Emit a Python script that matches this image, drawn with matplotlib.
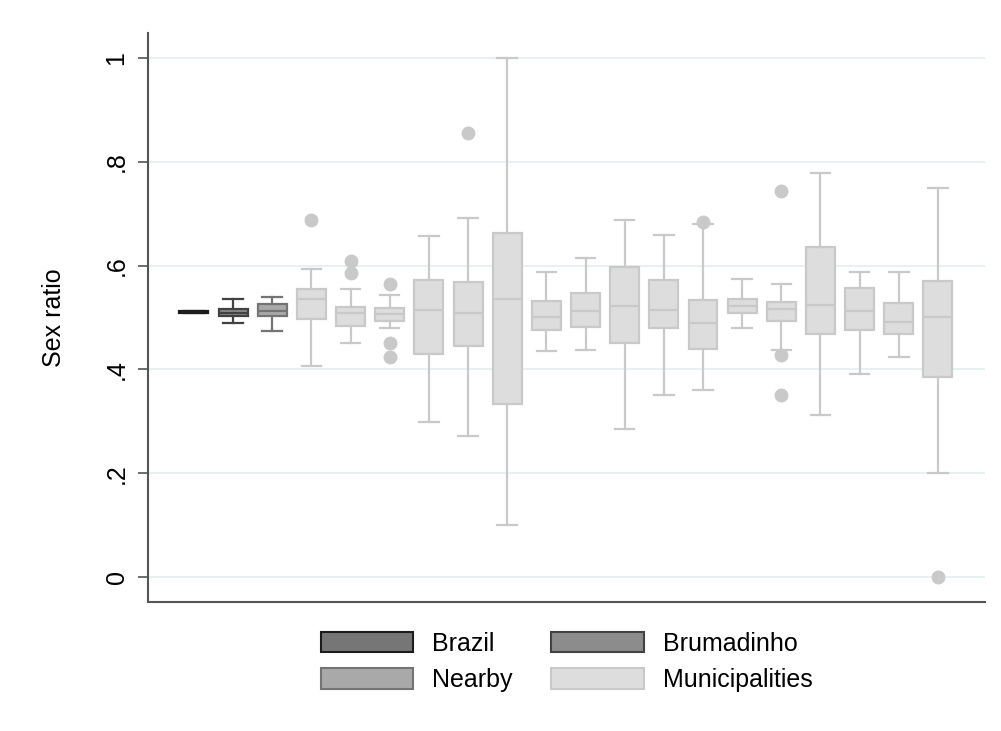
import matplotlib
matplotlib.use("Agg")
import matplotlib.pyplot as plt
from matplotlib.patches import Patch

plt.rcParams['font.family'] = ['Liberation Sans', 'DejaVu Sans']

# Box summary statistics, one entry per box (left to right)
groups = ["Brazil", "Brumadinho", "Nearby"] + ["Municipalities"] * 17
whislo = [0.509, 0.489, 0.473, 0.407, 0.450, 0.480, 0.299, 0.272, 0.100, 0.435,
          0.437, 0.285, 0.351, 0.360, 0.479, 0.437, 0.313, 0.391, 0.424, 0.201]
q1 = [0.509, 0.502, 0.502, 0.497, 0.484, 0.494, 0.429, 0.445, 0.334, 0.475,
      0.482, 0.450, 0.480, 0.440, 0.509, 0.493, 0.469, 0.475, 0.469, 0.386]
med = [0.511, 0.509, 0.513, 0.536, 0.508, 0.506, 0.515, 0.509, 0.535, 0.501,
       0.512, 0.523, 0.514, 0.489, 0.523, 0.516, 0.524, 0.512, 0.491, 0.500]
q3 = [0.513, 0.516, 0.526, 0.554, 0.521, 0.518, 0.573, 0.568, 0.663, 0.532,
      0.548, 0.597, 0.572, 0.534, 0.536, 0.529, 0.635, 0.556, 0.527, 0.570]
whishi = [0.513, 0.536, 0.539, 0.593, 0.555, 0.544, 0.656, 0.692, 1.000, 0.587,
          0.614, 0.687, 0.659, 0.680, 0.574, 0.564, 0.778, 0.588, 0.587, 0.750]
outliers = [[], [], [], [0.688], [0.586, 0.608], [0.423, 0.450, 0.565],
            [], [0.855], [], [], [], [], [], [0.684], [],
            [0.350, 0.428, 0.744], [], [], [], [0.0]]

ytick_vals = [0, 0.2, 0.4, 0.6, 0.8, 1.0]
ytick_labels = ["0", ".2", ".4", ".6", ".8", "1"]
legend_order = ["Brazil", "Nearby", "Brumadinho", "Municipalities"]

style = {
    "Brazil":         {"edge": "#1c1c1c", "fill": "#767676"},
    "Brumadinho":     {"edge": "#424242", "fill": "#8c8c8c"},
    "Nearby":         {"edge": "#747474", "fill": "#a9a9a9"},
    "Municipalities": {"edge": "#c9c9c9", "fill": "#dddddd"},
}

fig = plt.figure(figsize=(10.01, 7.31), dpi=100)
ax = fig.add_axes([0.1479, 0.1765, 0.8361, 0.7784])

for i, g in enumerate(groups):
    stats = [{"whislo": whislo[i], "q1": q1[i], "med": med[i], "q3": q3[i],
              "whishi": whishi[i], "fliers": outliers[i]}]
    ec = style[g]["edge"]
    fc = style[g]["fill"]
    ax.bxp(stats, positions=[i], widths=0.74, capwidths=0.5, patch_artist=True,
           boxprops=dict(facecolor=fc, edgecolor=ec, linewidth=1.6),
           medianprops=dict(color=ec, linewidth=1.6),
           whiskerprops=dict(color=ec, linewidth=1.6),
           capprops=dict(color=ec, linewidth=1.6),
           flierprops=dict(marker="o", markersize=9, markerfacecolor=ec,
                           markeredgecolor=ec),
           zorder=3)

ax.set_xlim(-1.17, 20.2)
ax.set_ylim(-0.048, 1.048)
ax.set_xticks([])
ax.set_yticks(ytick_vals)
ax.set_yticklabels(ytick_labels, rotation=90, va="center", fontsize=18)
ax.tick_params(axis="y", length=7, width=1.2, color="#555555", pad=7)
ax.yaxis.grid(True, color="#e6eff1", linewidth=1.3, zorder=0)
ax.set_axisbelow(True)

for s in ["top", "right"]:
    ax.spines[s].set_visible(False)
for s in ["left", "bottom"]:
    ax.spines[s].set_color("#555555")
    ax.spines[s].set_linewidth(1.5)

ax.set_ylabel("Sex ratio", fontsize=18, labelpad=28)

handles = [Patch(facecolor=style[g]["fill"], edgecolor=style[g]["edge"],
                 linewidth=1.5, label=g) for g in legend_order]
fig.legend(handles=handles, ncol=2, loc="upper center",
           bbox_to_anchor=(0.566, 0.153), frameon=False, fontsize=18,
           handlelength=3.7, handleheight=0.9, handletextpad=0.75,
           columnspacing=1.55, labelspacing=0.5, borderpad=0)

fig.savefig("out.png", dpi=100, facecolor="white")
